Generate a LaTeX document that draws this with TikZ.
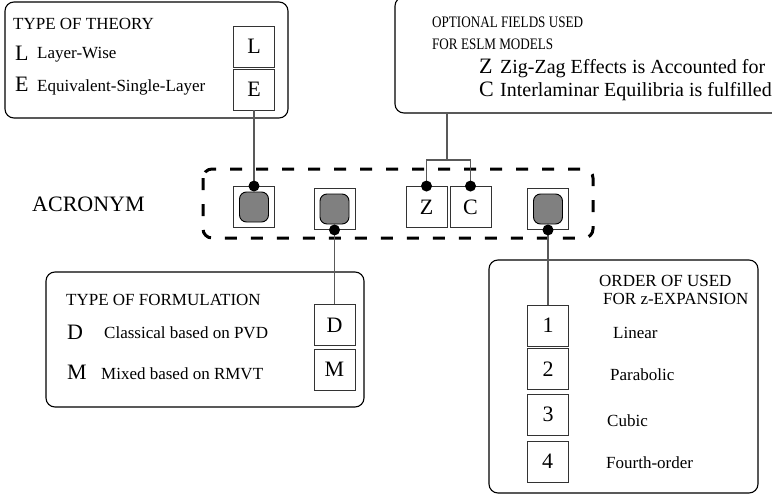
\documentclass[tikz,border=0pt]{standalone}
\usepackage{fontspec}
\setmainfont{Liberation Serif}
\begin{document}
\begin{tikzpicture}[x=1pt,y=-1pt,
 txt/.style={font=\fontsize{17}{20}\selectfont, anchor=base west, inner sep=0pt},
 smalltxt/.style={font=\fontsize{16}{19}\selectfont, anchor=base west, inner sep=0pt},
 midtxt/.style={font=\fontsize{20}{24}\selectfont, anchor=base west, inner sep=0pt},
 big/.style={font=\fontsize{22}{26}\selectfont, anchor=base west, inner sep=0pt},
 panel/.style={draw=black, line width=1.1pt, rounded corners=9pt, inner sep=0pt},
 cell/.style={draw=black!80, line width=0.9pt, minimum size=41pt, inner sep=0pt, font=\fontsize{22}{26}\selectfont},
 knob/.style={draw=black, fill=black!50, line width=0.9pt, rounded corners=7pt, minimum width=29pt, minimum height=30pt, inner sep=0pt},
 conn/.style={draw=black!65, line width=1.1pt},
 dot/.style={circle, fill=black, minimum size=11pt, inner sep=0pt},
 group/.style={draw=black, line width=3pt, dash pattern=on 12pt off 14pt, rounded corners=9pt}]
\useasboundingbox (0,0) rectangle (772,495);
\clip (0,0) rectangle (772,495);

% panels
\node[panel, minimum width=283pt, minimum height=116pt] (theory) at (146.5,60) {};
\node[panel, minimum width=405pt, minimum height=116pt] (opt) at (597.5,55) {};
\node[panel, minimum width=318pt, minimum height=135pt] (form) at (205,339.5) {};
\node[panel, minimum width=269pt, minimum height=233pt] (order) at (623.5,376.5) {};

% panel 1 texts
\node[txt] (t1) at (13,30) {TYPE OF THEORY};
\node[big] (t1L) at (15,61) {L};
\node[txt] (t1Lt) at (37,59) {Layer-Wise};
\node[big] (t1E) at (15,92) {E};
\node[txt] (t1Et) at (37,92) {Equivalent-Single-Layer};
\node[cell] (L) at (254,46.5) {L};
\node[cell] (E) at (254,89.5) {E};

% panel 2 texts
\node[smalltxt] (t2a) at (432,28) {\scalebox{0.82}[1]{OPTIONAL FIELDS USED}};
\node[smalltxt] (t2b) at (432,50) {\scalebox{0.82}[1]{FOR ESLM MODELS}};
\node[big] (t2Z) at (479,74) {Z};
\node[midtxt] (t2Zt) at (500,74) {Zig-Zag Effects is Accounted for};
\node[big] (t2C) at (479,97) {C};
\node[midtxt] (t2Ct) at (500,97) {Interlaminar Equilibria is fulfilled};

% acronym
\node[big] (acr) at (32,211) {ACRONYM};
\draw[group] (203,169) rectangle (593,238);

\node[cell] (g1) at (254,207) {};
\node[knob] (g1k) at (g1) {};
\node[cell] (g2) at (334.5,209) {};
\node[knob] (g2k) at (g2) {};
\node[cell] (Z) at (426.5,207) {Z};
\node[cell] (C) at (470.5,207) {C};
\node[cell] (g3) at (548,209) {};
\node[knob] (g3k) at (g3) {};

% panel 3
\node[txt] (t3) at (66,305) {TYPE OF FORMULATION};
\node[big] (t3D) at (67,339) {D};
\node[txt] (t3Dt) at (104,338) {Classical based on PVD};
\node[big] (t3M) at (67,379) {M};
\node[txt] (t3Mt) at (101,379) {Mixed based on RMVT};
\node[cell] (D) at (334.5,325) {D};
\node[cell] (M) at (334.5,369.5) {M};

% panel 4
\node[txt] (t4a) at (599,286) {ORDER OF USED};
\node[txt] (t4b) at (603,304) {FOR z-EXPANSION};
\node[cell] (n1) at (548,325.5) {1};
\node[cell] (n2) at (548,369) {2};
\node[cell] (n3) at (548,414.5) {3};
\node[cell] (n4) at (547.5,461.5) {4};
\node[txt] (t4c) at (613,338) {Linear};
\node[txt] (t4d) at (610,380) {Parabolic};
\node[txt] (t4e) at (607,426) {Cubic};
\node[txt] (t4f) at (606,468) {Fourth-order};

% connectors
\coordinate (j) at (447,160);
\draw[conn] (E.south) -- (g1.north);
\draw[conn] (g2.south) -- (D.north);
\draw[conn] (g3.south) -- (n1.north);
\draw[conn] (opt.south -| j) -- (j);
\draw[conn] (Z.north) |- (j) -| (C.north);

% dots
\node[dot] (d1) at (g1.north) {};
\node[dot] (d2) at (g2.south) {};
\node[dot] (d3) at (Z.north) {};
\node[dot] (d4) at (C.north) {};
\node[dot] (d5) at (g3.south) {};
\end{tikzpicture}
\end{document}
